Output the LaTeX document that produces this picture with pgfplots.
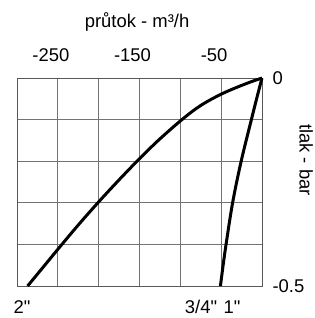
\documentclass[border=0pt]{standalone}
\usepackage{pgfplots}
\pgfplotsset{compat=1.18}
\usepackage{fontspec}
\setmainfont{Liberation Sans}
\newcommand{\lf}{\fontsize{18.5}{21}\selectfont}
\begin{document}
\begin{tikzpicture}
\begin{axis}[
  at={(0,0)}, anchor=south west,
  scale only axis, width=245bp, height=208bp,
  xmin=-300, xmax=0, ymin=-0.5, ymax=0,
  clip=false,
  axis line style={draw=black!65, line width=0.9bp},
  grid=major,
  major grid style={draw=black!55, line width=0.8bp},
  tick style={draw=none},
  xtick={-300,-250,-200,-150,-100,-50,0},
  xticklabels={{},-250,{},-150,{},-50,{}},
  ytick={-0.5,-0.4,-0.3,-0.2,-0.1,0},
  yticklabels={-0.5,{},{},{},{},0},
  xticklabel pos=upper,
  yticklabel pos=right,
  xticklabel style={font=\lf, anchor=base, yshift=16bp, xshift=-7bp},
  yticklabel style={font=\lf, anchor=west, xshift=7bp},
  xlabel={průtok - m³/h},
  xlabel style={font=\lf, at={(axis description cs:0.49,1.269)}, anchor=center},
  ylabel={tlak - bar},
  ylabel style={font=\lf, at={(axis description cs:1.18,0.606)}, anchor=center, rotate=180},
]
\addplot[black, line width=3bp, smooth, tension=0.55] coordinates {
  (0,0) (-18.7,-0.013) (-48,-0.037) (-75,-0.066) (-98,-0.1) (-127,-0.15)
  (-153,-0.2) (-177.5,-0.25) (-201,-0.3) (-223.5,-0.35) (-245,-0.4) (-266,-0.45) (-287,-0.5)
};
\addplot[black, line width=3bp, smooth, tension=0.55] coordinates {
  (0,0) (-6.6,-0.05) (-13,-0.1) (-25.5,-0.2) (-36,-0.3) (-44,-0.4) (-47.6,-0.45) (-50.9,-0.5)
};
\node[font=\lf, anchor=base, inner sep=0pt] at (axis cs:-294,-0.566) {2\textquotedbl};
\node[font=\lf, anchor=base, inner sep=0pt] at (axis cs:-74.7,-0.566) {3/4\textquotedbl};
\node[font=\lf, anchor=base, inner sep=0pt] at (axis cs:-36.7,-0.566) {1\textquotedbl};
\end{axis}
\pgfresetboundingbox
\path (-17bp,-32bp) rectangle (298bp,286bp);
\end{tikzpicture}
\end{document}
